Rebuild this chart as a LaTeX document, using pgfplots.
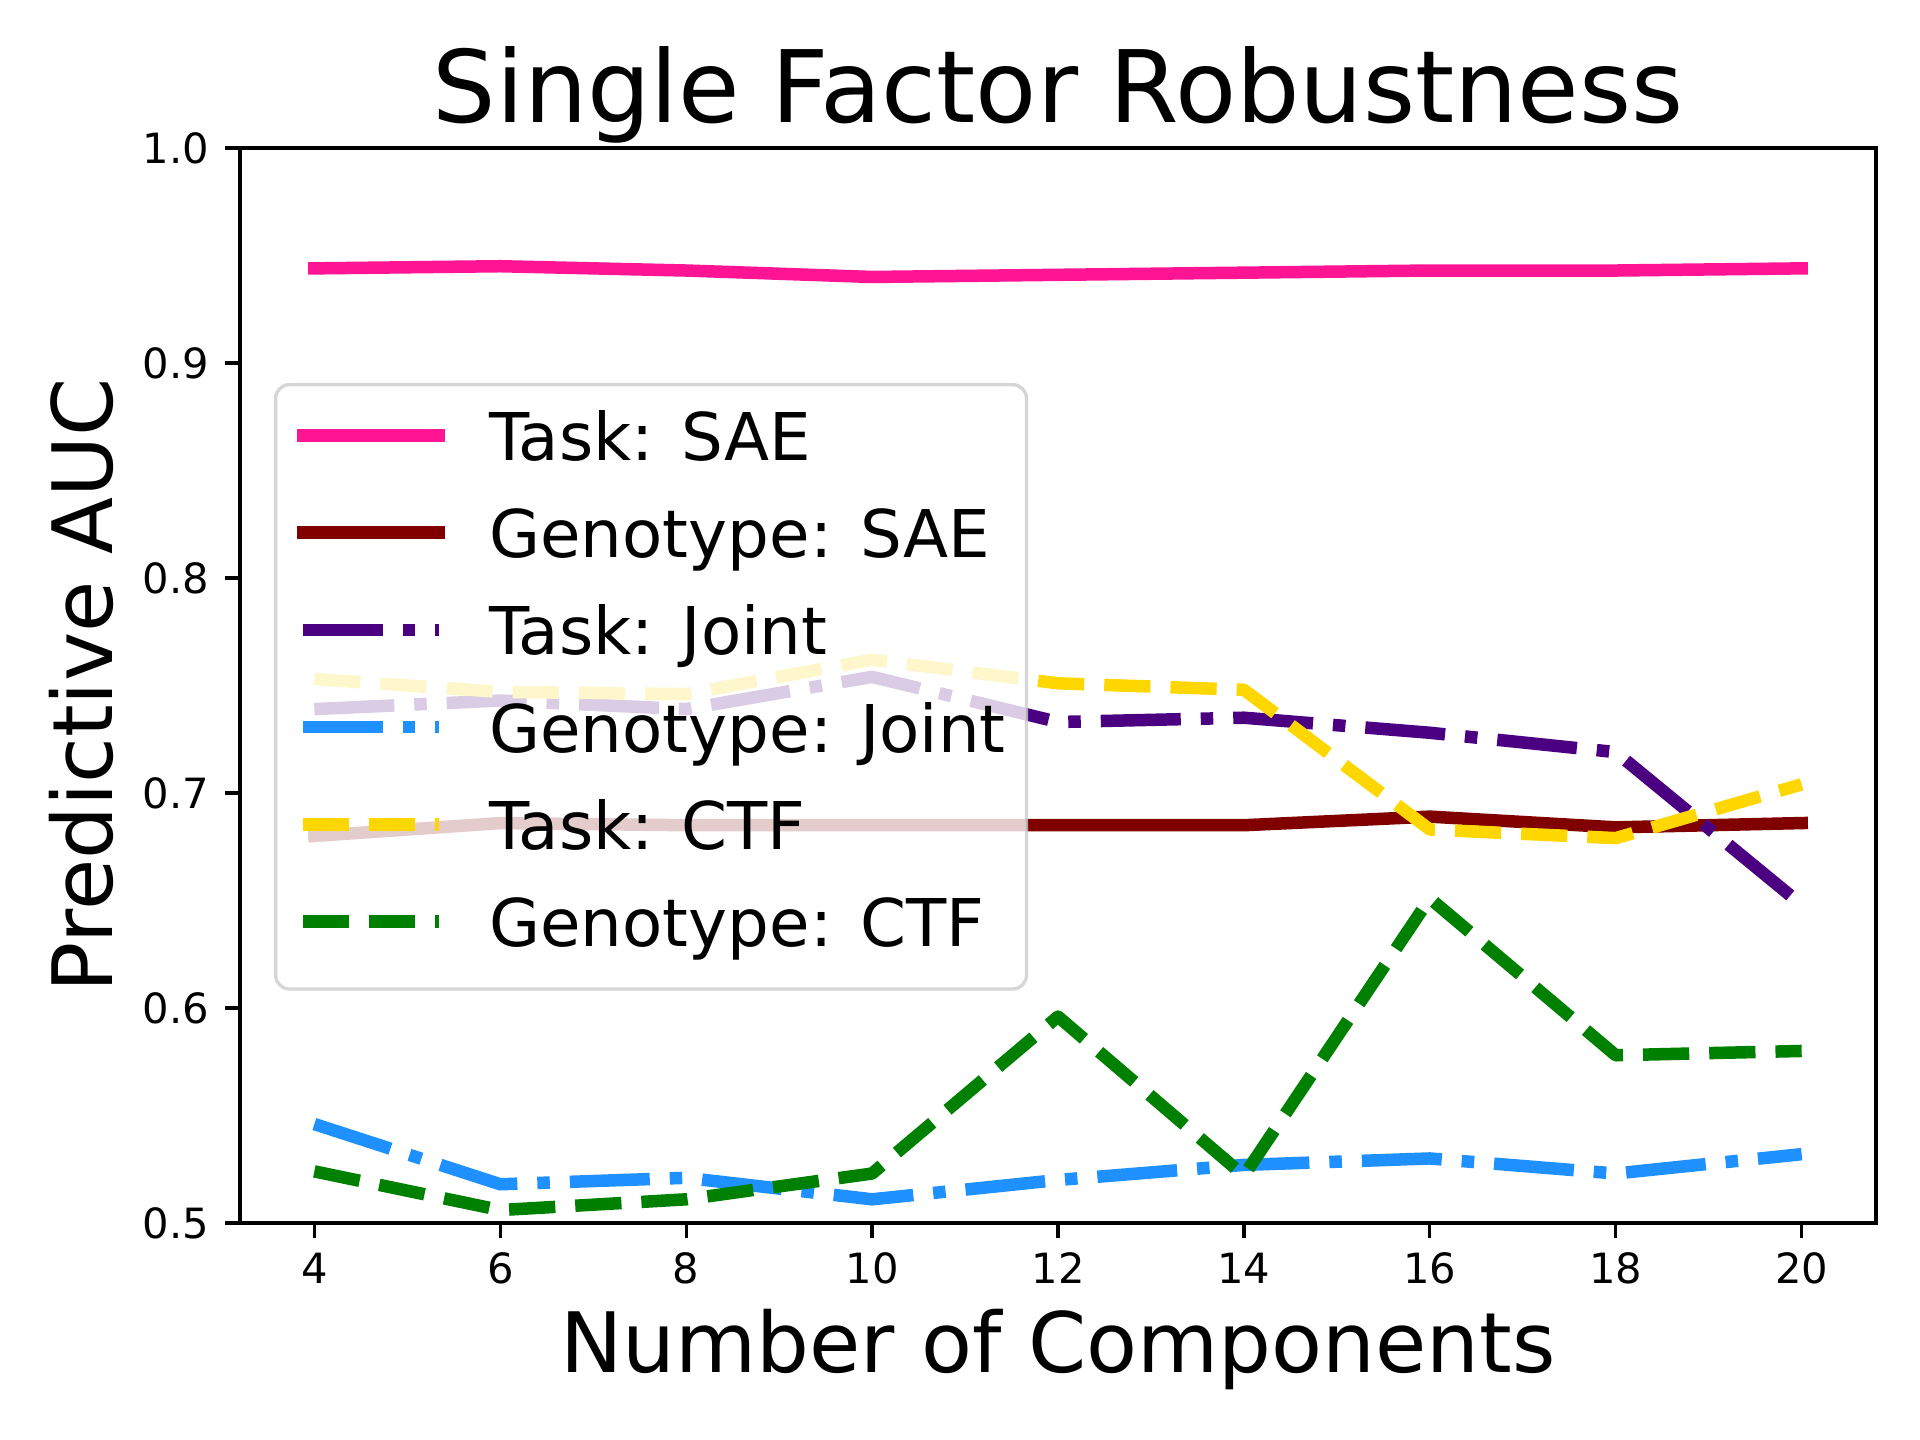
\documentclass[border=0pt]{standalone}
\usepackage{fontspec}
\setmainfont{DejaVu Sans}
\usepackage{pgfplots}
\pgfplotsset{compat=1.18}
\definecolor{cpink}{HTML}{FF1493}
\definecolor{cmaroon}{HTML}{800000}
\definecolor{cindigo}{HTML}{4B0082}
\definecolor{cblue}{HTML}{1E90FF}
\definecolor{cgold}{HTML}{FFD700}
\definecolor{cgreen}{HTML}{008000}
\begin{document}
\begin{tikzpicture}
\begin{axis}[
  scale only axis,
  width=392.64pt, height=258pt,
  xmin=3.2, xmax=20.8, ymin=0.5, ymax=1.0,
  xtick={4,6,8,10,12,14,16,18,20},
  ytick={0.5,0.6,0.7,0.8,0.9,1.0},
  /pgf/number format/assume math mode=true,
  tick align=outside,
  major tick length=3.5pt,
  tick style={line width=0.8pt, black},
  xtick pos=bottom, ytick pos=left,
  axis line style={line width=0.8pt},
  ticklabel style={font=\fontsize{10}{12}\selectfont, inner sep=0pt},
  xticklabel style={yshift=-3.5pt},
  yticklabel style={/pgf/number format/fixed, /pgf/number format/fixed zerofill, /pgf/number format/precision=1, xshift=-3.7pt},
  title={Single Factor Robustness},
  title style={at={(axis description cs:0.5,1.0)}, anchor=base, inner sep=0pt, font=\fontsize{24}{29}\selectfont},
  xlabel={Number of Components},
  xlabel style={at={(axis description cs:0.5,-0.1395)}, anchor=base, inner sep=0pt, font=\fontsize{20}{24}\selectfont},
  ylabel={Predictive AUC},
  ylabel style={at={(axis description cs:-0.0782,0.5)}, rotate=0, anchor=base, inner sep=0pt, font=\fontsize{20}{24}\selectfont},
  legend image code/.code={\draw[#1, draw opacity=1] (0pt,6pt) -- (32.6pt,6pt);},
  legend style={
    at={(axis description cs:0.0208,0.7814)}, anchor=north west,
    fill=white, fill opacity=0.8, text opacity=1,
    draw=white!80!black, draw opacity=0.8, line width=0.8pt,
    rounded corners=3.3pt,
    inner xsep=5pt, inner ysep=5.7pt,
    row sep=6.33pt, column sep=10.7pt,
    font=\fontsize{15.8}{19}\selectfont,
    nodes={inner sep=0pt, text height=12.5pt, text depth=4.5pt, anchor=base west},
  },
  legend cell align=left,
]
\addplot[cpink, line width=3pt, line cap=rect, line join=round] coordinates {
(4,0.944)(6,0.945)(8,0.943)(10,0.940)(12,0.941)(14,0.942)(16,0.943)(18,0.943)(20,0.944)};
\addlegendentry{Task: SAE}
\addplot[cmaroon, line width=3pt, line cap=rect, line join=round] coordinates {
(4,0.680)(6,0.686)(8,0.685)(10,0.685)(12,0.685)(14,0.685)(16,0.689)(18,0.684)(20,0.686)};
\addlegendentry{Genotype: SAE}
\addplot[cindigo, line width=3pt, line join=round, dash pattern=on 19.2pt off 4.8pt on 3pt off 4.8pt] coordinates {
(4,0.739)(6,0.743)(8,0.739)(10,0.754)(12,0.733)(14,0.735)(16,0.728)(18,0.719)(20,0.648)};
\addlegendentry{Task: Joint}
\addplot[cblue, line width=3pt, line join=round, dash pattern=on 19.2pt off 4.8pt on 3pt off 4.8pt] coordinates {
(4,0.546)(6,0.518)(8,0.521)(10,0.511)(12,0.520)(14,0.527)(16,0.530)(18,0.523)(20,0.532)};
\addlegendentry{Genotype: Joint}
\addplot[cgold, line width=3pt, line join=round, dash pattern=on 11.1pt off 4.8pt] coordinates {
(4,0.753)(6,0.747)(8,0.746)(10,0.762)(12,0.751)(14,0.748)(16,0.683)(18,0.679)(20,0.704)};
\addlegendentry{Task: CTF}
\addplot[cgreen, line width=3pt, line join=round, dash pattern=on 11.1pt off 4.8pt] coordinates {
(4,0.524)(6,0.506)(8,0.511)(10,0.523)(12,0.596)(14,0.522)(16,0.651)(18,0.578)(20,0.580)};
\addlegendentry{Genotype: CTF}
\end{axis}
\pgfresetboundingbox
\path[use as bounding box] ([shift={(-57.6pt,-52.08pt)}]current axis.south west) rectangle ([shift={(10.56pt,35.52pt)}]current axis.north east);
\end{tikzpicture}
\end{document}
